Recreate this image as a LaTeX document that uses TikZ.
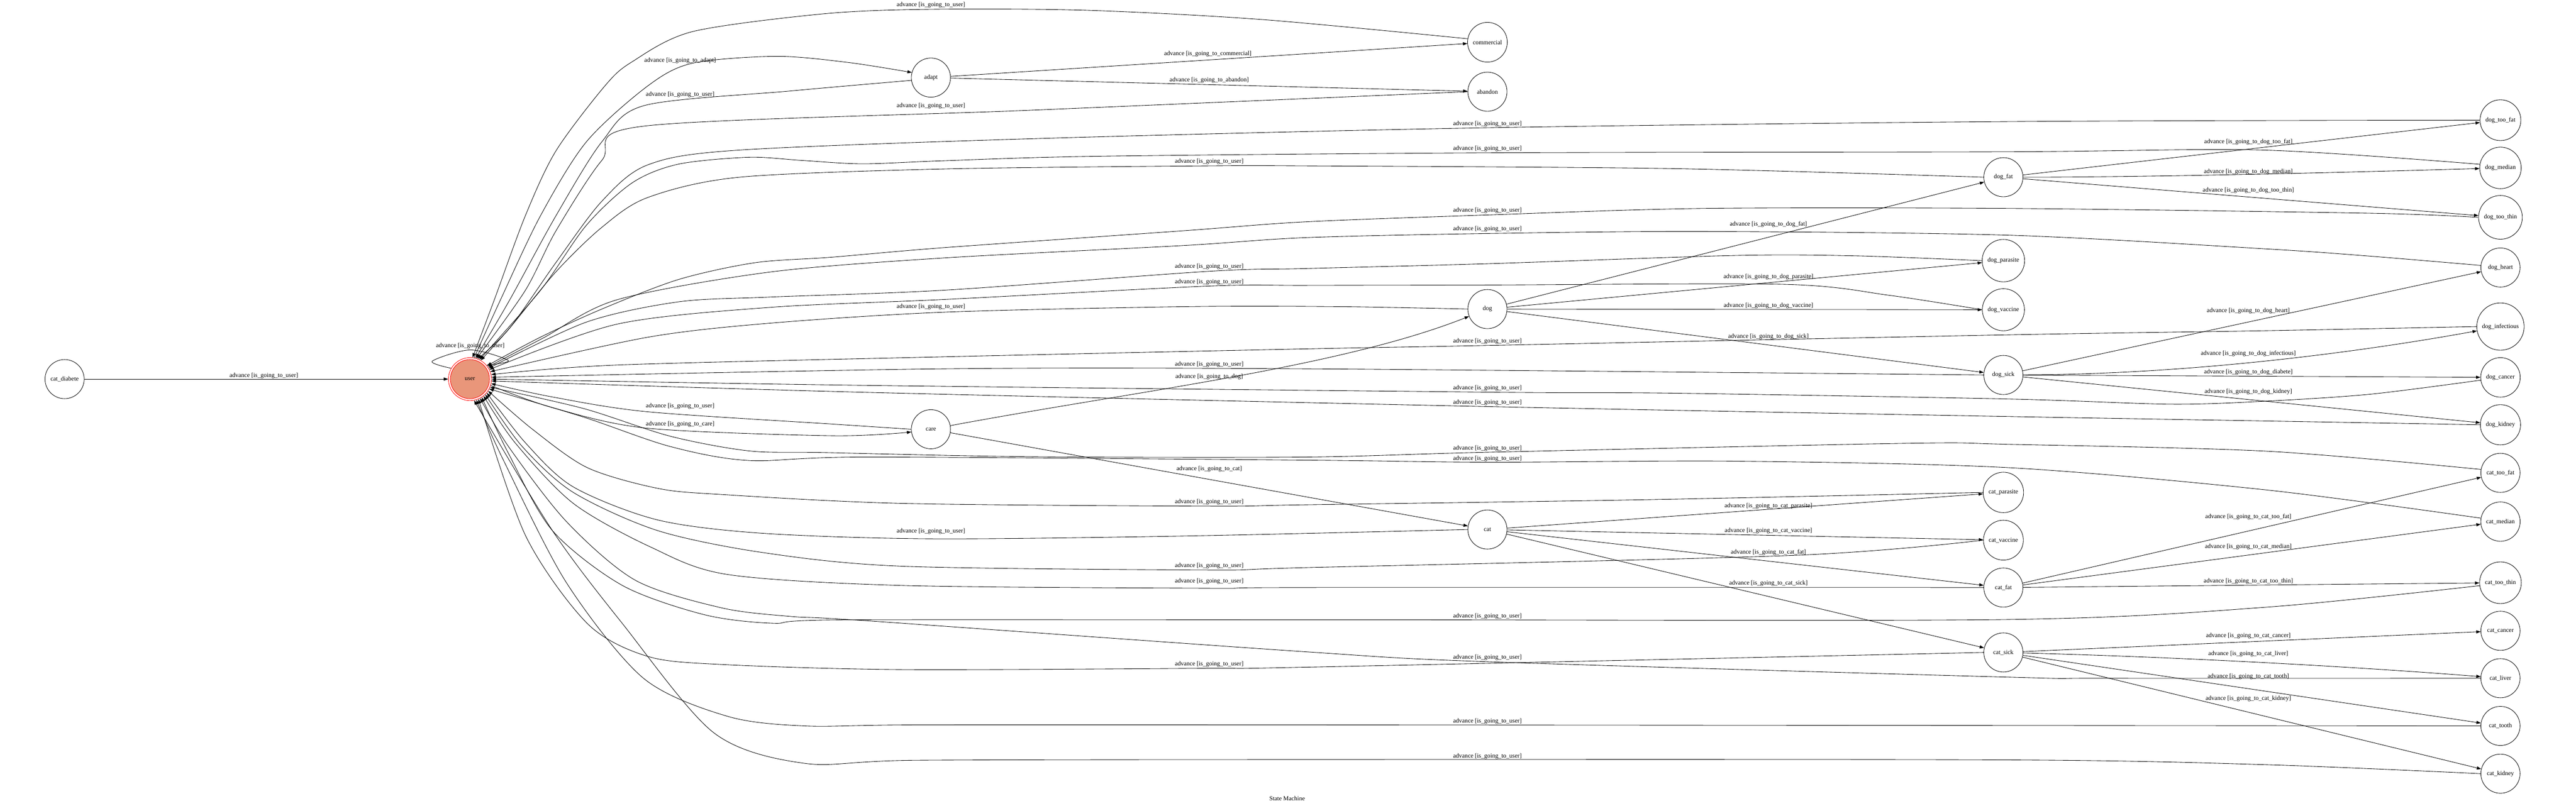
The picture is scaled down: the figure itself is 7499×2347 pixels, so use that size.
\documentclass[tikz,border=0pt]{standalone}
\usepackage{fontspec}
\setmainfont{Liberation Serif}
\usetikzlibrary{arrows.meta}
\newcommand\myadv[1]{advance [is\_going\_to\_#1]}
\begin{document}
\begin{tikzpicture}[x=0.7776pt,y=-0.7776pt,
  every node/.style={font=\fontsize{14pt}{16pt}\selectfont},
  st/.style={circle,draw,line width=1pt,minimum size=88.6pt,inner sep=9.65pt},
  ring/.style={circle,draw=red,line width=1pt,minimum size=97.2pt,inner sep=0pt},
  userin/.style={circle,draw=red,fill={rgb,255:red,233;green,150;blue,122},line width=1pt,minimum size=88.6pt,inner sep=0pt},
  lbl/.style={inner sep=0pt},
  e/.style={line width=1pt,-{Triangle[length=10pt,width=7pt]}},
  sm/.style={smooth,tension=0.5}]
\useasboundingbox (0,0) rectangle (7499,2347);
% ---------- nodes
\node[st] (catdiabete) at (188,1104) {cat\_diabete};
\node[ring] (user) at (1368,1104) {};
\node[userin] (userin) at (1368,1104) {user};
\node[st] (adapt) at (2710,226) {adapt};
\node[st] (care) at (2710,1250) {care};
\node[st] (commercial) at (4330,123) {commercial};
\node[st] (abandon) at (4330,267) {abandon};
\node[st] (dog) at (4330,900) {dog};
\node[st] (cat) at (4330,1542) {cat};
\node[st] (dogfat) at (5832,516) {dog\_fat};
\node[st] (dogparasite) at (5832,759) {dog\_parasite};
\node[st] (dogvaccine) at (5832,902) {dog\_vaccine};
\node[st] (dogsick) at (5832,1092) {dog\_sick};
\node[st] (catparasite) at (5832,1434) {cat\_parasite};
\node[st] (catvaccine) at (5832,1573) {cat\_vaccine};
\node[st] (catfat) at (5832,1711) {cat\_fat};
\node[st] (catsick) at (5832,1900) {cat\_sick};
\node[st] (dogtoofat) at (7279,350) {dog\_too\_fat};
\node[st] (dogmedian) at (7279,489) {dog\_median};
\node[st] (dogtoothin) at (7279,633) {dog\_too\_thin};
\node[st] (dogheart) at (7279,779) {dog\_heart};
\node[st] (doginfectious) at (7279,951) {dog\_infectious};
\node[st] (dogcancer) at (7279,1099) {dog\_cancer};
\node[st] (dogkidney) at (7279,1237) {dog\_kidney};
\node[st] (cattoofat) at (7279,1377) {cat\_too\_fat};
\node[st] (catmedian) at (7279,1519) {cat\_median};
\node[st] (cattoothin) at (7279,1697) {cat\_too\_thin};
\node[st] (catcancer) at (7279,1837) {cat\_cancer};
\node[st] (catliver) at (7279,1975) {cat\_liver};
\node[st] (cattooth) at (7279,2114) {cat\_tooth};
\node[st] (catkidney) at (7279,2253) {cat\_kidney};
\node[lbl] (title) at (3747,2325) {State Machine};
% ---------- forward edges
\draw[e] (catdiabete) -- (user);
\node[lbl] (ldiab) at (768,1094) {\myadv{user}};
\draw[e] plot[sm] coordinates {(user.150) (1258,1052) (1369,1019) (1480,1050) (user.40)};
\node[lbl] (lloop) at (1369,1007) {\myadv{user}};
\draw[e] plot[sm] coordinates {(user.79) (1457,873) (1573,629) (1707,413) (1886,250) (2016,184) (2261,164) (2470,182) (adapt.165)};
\node[lbl] (ladapt) at (1980,177) {\myadv{adapt}};
\draw[e] plot[sm] coordinates {(user.-17) (1608,1187) (1884,1247) (2424,1269) (care.188)};
\node[lbl] (lcare) at (1980,1235) {\myadv{care}};
\draw[e] (adapt) -- (commercial);
\node[lbl] (lcom) at (3516,157) {\myadv{commercial}};
\draw[e] (adapt) -- (abandon);
\node[lbl] (laba) at (3520,234) {\myadv{abandon}};
\draw[e] (care) .. controls (3300,1140) and (3900,1070) .. (dog);
\node[lbl] (ldog) at (3520,1097) {\myadv{dog}};
\draw[e] (care) -- (cat);
\node[lbl] (lcat) at (3520,1366) {\myadv{cat}};
\draw[e] (dog) -- (dogfat);
\node[lbl] (ldf) at (5148,654) {\myadv{dog\_fat}};
\draw[e] (dog) -- (dogparasite);
\node[lbl] (ldp) at (5148,806) {\myadv{dog\_parasite}};
\draw[e] (dog) -- (dogvaccine);
\node[lbl] (ldv) at (5148,891) {\myadv{dog\_vaccine}};
\draw[e] (dog) -- (dogsick);
\node[lbl] (lds) at (5148,980) {\myadv{dog\_sick}};
\draw[e] (cat) -- (catparasite);
\node[lbl] (lcp) at (5148,1474) {\myadv{cat\_parasite}};
\draw[e] (cat) -- (catvaccine);
\node[lbl] (lcv) at (5148,1545) {\myadv{cat\_vaccine}};
\draw[e] (cat) -- (catfat);
\node[lbl] (lcf) at (5148,1609) {\myadv{cat\_fat}};
\draw[e] (cat) -- (catsick);
\node[lbl] (lcs) at (5148,1698) {\myadv{cat\_sick}};
\draw[e] (dogfat) -- (dogtoofat);
\node[lbl] (ldtf) at (6545,414) {\myadv{dog\_too\_fat}};
\draw[e] (dogfat) .. controls (6300,516) and (6900,500) .. (dogmedian);
\node[lbl] (ldm) at (6545,500) {\myadv{dog\_median}};
\draw[e] (dogfat) -- (dogtoothin);
\node[lbl] (ldtt) at (6545,554) {\myadv{dog\_too\_thin}};
\draw[e] (dogsick) -- (dogheart);
\node[lbl] (ldh) at (6545,905) {\myadv{dog\_heart}};
\draw[e] (dogsick) .. controls (6400,1090) and (6900,1020) .. (doginfectious);
\node[lbl] (ldi) at (6545,1029) {\myadv{dog\_infectious}};
\draw[e] (dogsick) -- (dogcancer);
\node[lbl] (ldd) at (6545,1084) {\myadv{dog\_diabete}};
\draw[e] (dogsick) -- (dogkidney);
\node[lbl] (ldk) at (6545,1141) {\myadv{dog\_kidney}};
\draw[e] (catfat) -- (cattoofat);
\node[lbl] (lctf) at (6545,1505) {\myadv{cat\_too\_fat}};
\draw[e] (catfat) -- (catmedian);
\node[lbl] (lcm) at (6545,1592) {\myadv{cat\_median}};
\draw[e] (catfat) -- (cattoothin);
\node[lbl] (lctt) at (6545,1692) {\myadv{cat\_too\_thin}};
\draw[e] (catsick) -- (catcancer);
\node[lbl] (lcc) at (6545,1852) {\myadv{cat\_cancer}};
\draw[e] (catsick) .. controls (6400,1915) and (6900,1945) .. (catliver);
\node[lbl] (lcl) at (6545,1904) {\myadv{cat\_liver}};
\draw[e] (catsick) -- (cattooth);
\node[lbl] (lct) at (6545,1970) {\myadv{cat\_tooth}};
\draw[e] (catsick) -- (catkidney);
\node[lbl] (lck) at (6545,2034) {\myadv{cat\_kidney}};
% ---------- return edges to user
\draw[e] plot[sm] coordinates {(commercial.170) (3675,57) (3165,30) (2710,27) (2400,40) (2016,92) (1840,180) (1761,250) (1618,440) (1529,629) (1439,873) (user.83)};
\node[lbl] (r1) at (2710,14) {\myadv{user}};
\draw[e] plot[sm] coordinates {(adapt.188) (2300,265) (1877,307) (1752,413) (1618,629) (1484,873) (user.75)};
\node[lbl] (r2) at (1980,276) {\myadv{user}};
\draw[e] plot[sm] coordinates {(abandon.west) (3000,321) (1877,367) (1752,467) (1618,673) (1529,846) (user.72)};
\node[lbl] (r3) at (2710,309) {\myadv{user}};
\draw[e] plot[sm] coordinates {(dogtoofat.west) (5850,354) (4330,372) (3037,403) (2153,437) (1886,480) (1752,586) (1618,765) (1484,955) (user.69)};
\node[lbl] (r4) at (4330,361) {\myadv{user}};
\draw[e] plot[sm] coordinates {(dogmedian.170) (6587,437) (5850,442) (4330,445) (3200,455) (2750,468) (2511,477) (2332,467) (2180,458) (1975,478) (1841,532) (1707,656) (1573,846) (user.64)};
\node[lbl] (r5) at (4330,433) {\myadv{user}};
\draw[e] plot[sm] coordinates {(dogfat.west) (4871,491) (3800,483) (3520,483) (2750,492) (2153,516) (1886,575) (1752,662) (1618,792) (1484,955) (user.60)};
\node[lbl] (r6) at (3520,471) {\myadv{user}};
\draw[e] plot[sm] coordinates {(dogtoothin.west) (6900,621) (5850,607) (4960,607) (4330,626) (3800,646) (3445,672) (2750,721) (2421,749) (2198,765) (1975,814) (1752,900) (1573,982) (user.38)};
\node[lbl] (r7) at (4330,613) {\myadv{user}};
\draw[e] plot[sm] coordinates {(dogheart.174) (6900,746) (6600,725) (5850,685) (4960,674) (4330,680) (3800,692) (3445,715) (2750,751) (2243,792) (1796,873) (1580,985) (user.34)};
\node[lbl] (r8) at (4330,667) {\myadv{user}};
\draw[e] plot[sm] coordinates {(dogparasite.west) (5400,745) (5050,744) (4330,768) (3800,782) (3520,790) (2750,845) (2243,865) (1975,879) (1707,938) (user.30)};
\node[lbl] (r9) at (3520,777) {\myadv{user}};
\draw[e] plot[sm] coordinates {(dogvaccine.west) (5500,860) (5193,828) (4330,830) (3800,831) (3520,833) (2750,872) (2243,895) (1796,944) (user.26)};
\node[lbl] (r10) at (3520,821) {\myadv{user}};
\draw[e] plot[sm] coordinates {(dog.west) (3900,893) (3450,893) (2750,909) (2243,941) (1886,982) (user.20)};
\node[lbl] (r11) at (2710,894) {\myadv{user}};
\draw[e] plot[sm] coordinates {(doginfectious.west) (6600,963) (5850,975) (4330,1006) (3800,1016) (2750,1039) (1796,1063) (user.12)};
\node[lbl] (r12) at (4330,994) {\myadv{user}};
\draw[e] plot[sm] coordinates {(dogsick.west) (3800,1074) (2750,1074) (user.5)};
\node[lbl] (r13) at (3520,1062) {\myadv{user}};
\draw[e] plot[sm] coordinates {(dogcancer.188) (6900,1148) (6600,1168) (6319,1177) (5850,1162) (4871,1145) (4330,1142) (2500,1122) (user.0)};
\node[lbl] (r14) at (4330,1130) {\myadv{user}};
\draw[e] plot[sm] coordinates {(dogkidney.west) (6600,1226) (5850,1213) (4330,1184) (2500,1142) (user.-5)};
\node[lbl] (r15) at (4330,1172) {\myadv{user}};
\draw[e] plot[sm] coordinates {(care.west) (2424,1235) (1884,1199) (1608,1156) (user.-12)};
\node[lbl] (r16) at (1980,1183) {\myadv{user}};
\draw[e] plot[sm] coordinates {(cattoofat.170) (6600,1314) (5850,1294) (5550,1291) (4330,1317) (3800,1331) (3000,1330) (2400,1318) (2180,1313) (1950,1270) (1700,1190) (user.-22)};
\node[lbl] (r17) at (4330,1305) {\myadv{user}};
\draw[e] plot[sm] coordinates {(catmedian.170) (6600,1427) (5850,1362) (5050,1343) (4330,1346) (3800,1340) (2527,1331) (2180,1341) (1950,1300) (1700,1215) (user.-27)};
\node[lbl] (r18) at (4330,1336) {\myadv{user}};
\draw[e] plot[sm] coordinates {(catparasite.west) (4800,1455) (3800,1470) (3520,1474) (2628,1466) (2100,1440) (1914,1422) (1710,1362) (1550,1250) (user.-33)};
\node[lbl] (r19) at (3520,1462) {\myadv{user}};
\draw[e] plot[sm] coordinates {(cat.west) (3445,1561) (2710,1569) (2220,1553) (1914,1514) (1669,1418) (1530,1290) (user.-39)};
\node[lbl] (r20) at (2710,1547) {\myadv{user}};
\draw[e] plot[sm] coordinates {(catvaccine.west) (5228,1617) (3800,1653) (3520,1660) (2628,1649) (2220,1609) (1914,1545) (1669,1434) (1520,1300) (user.-45)};
\node[lbl] (r21) at (3520,1647) {\myadv{user}};
\draw[e] plot[sm] coordinates {(catfat.west) (3800,1711) (3520,1713) (2628,1705) (2118,1673) (1894,1593) (1669,1466) (1500,1290) (user.-51)};
\node[lbl] (r22) at (3520,1693) {\myadv{user}};
\draw[e] plot[sm] coordinates {(cattoothin.188) (6600,1768) (5850,1804) (4000,1805) (2465,1805) (2250,1815) (2050,1790) (1812,1705) (1608,1545) (1480,1320) (user.-57)};
\node[lbl] (r23) at (4330,1795) {\myadv{user}};
\draw[e] plot[sm] coordinates {(catliver.west) (6121,1975) (5850,1972) (4330,1927) (3800,1898) (2527,1808) (2300,1795) (2100,1770) (1850,1690) (1650,1520) (1480,1300) (user.-62)};
\node[lbl] (r24) at (4330,1915) {\myadv{user}};
\draw[e] plot[sm] coordinates {(catsick.west) (3800,1943) (3520,1946) (2628,1950) (2100,1935) (1884,1911) (1710,1816) (1530,1560) (user.-67)};
\node[lbl] (r25) at (3520,1934) {\myadv{user}};
\draw[e] plot[sm] coordinates {(cattooth.west) (3800,2111) (2670,2111) (2343,2114) (2118,2086) (1873,1975) (1649,1697) (1465,1339) (user.-73)};
\node[lbl] (r26) at (4330,2101) {\myadv{user}};
\draw[e] plot[sm] coordinates {(catkidney.west) (6600,2227) (5850,2213) (3800,2212) (2670,2214) (2343,2223) (2078,2134) (1812,1816) (1608,1545) (user.-79)};
\node[lbl] (r27) at (4330,2203) {\myadv{user}};
\end{tikzpicture}
\end{document}
